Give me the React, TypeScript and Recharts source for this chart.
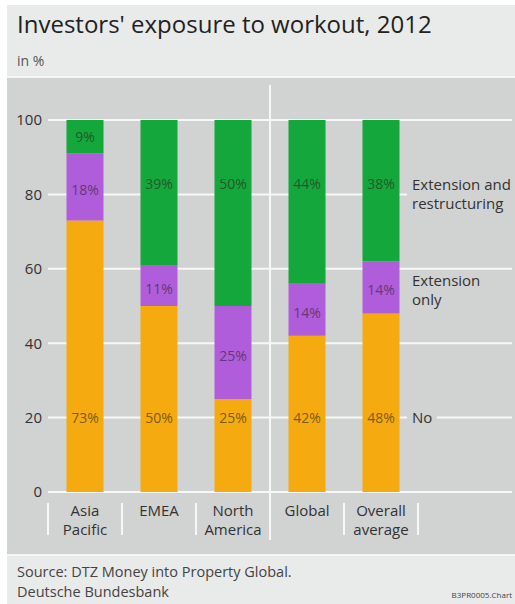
import React from "react";
import { BarChart, Bar, XAxis, YAxis, CartesianGrid, LabelList } from "recharts";

const CATEGORIES = ["Asia Pacific", "EMEA", "North America", "Global", "Overall average"];
const TICK_LINES = [["Asia", "Pacific"], ["EMEA"], ["North", "America"], ["Global"], ["Overall", "average"]];
const NO = [73, 50, 25, 42, 48];
const EXTENSION_ONLY = [18, 11, 25, 14, 14];
const EXTENSION_AND_RESTRUCTURING = [9, 39, 50, 44, 38];
const Y_TICKS = [0, 20, 40, 60, 80, 100];

const FONT = "'Open Sans', 'DejaVu Sans', sans-serif";
const PANEL = "#d1d2d2";
const ORANGE = "#f5aa10";
const PURPLE = "#b05ddb";
const GREEN = "#14a83c";

const data = CATEGORIES.map((name, i) => ({
  name,
  no: NO[i],
  extOnly: EXTENSION_ONLY[i],
  extRestr: EXTENSION_AND_RESTRUCTURING[i],
}));

// "No" labels sit on the 20 % line, next to the legend text
const NoLabel = (props: any) => {
  const { x, y, width, height, value } = props;
  const ppu = height / value;
  const ly = y + height - 20 * ppu;
  return (
    <text x={x + width / 2} y={ly + 5} textAnchor="middle" fontSize={14} fontFamily={FONT} fill="#7d5c14">
      {value}%
    </text>
  );
};

const MidLabel = (props: any) => {
  const { x, y, width, height, value } = props;
  return (
    <text x={x + width / 2} y={y + height / 2 + 8} textAnchor="middle" fontSize={14} fontFamily={FONT} fill="#633978">
      {value}%
    </text>
  );
};

// top segment labels align with "Extension and" unless the segment is too short
const TopLabel = (props: any) => {
  const { x, y, width, height, value } = props;
  const ppu = height / value;
  const ly = value > 22 ? y + 17.2 * ppu : y + height / 2;
  return (
    <text x={x + width / 2} y={ly + 5} textAnchor="middle" fontSize={14} fontFamily={FONT} fill="#215a2a">
      {value}%
    </text>
  );
};

const CategoryTick = (props: any) => {
  const { x, y, index } = props;
  const lines = TICK_LINES[index] || [];
  const half = 37;
  return (
    <g>
      {index === 3 ? (
        <line x1={x - half} x2={x - half} y1={7} y2={y + 48} stroke="#f7f7f7" strokeWidth={2} />
      ) : (
        <line x1={x - half} x2={x - half} y1={y + 11} y2={y + 43} stroke="#f7f7f7" strokeWidth={2} />
      )}
      {index === CATEGORIES.length - 1 && (
        <line x1={x + half} x2={x + half} y1={y + 11} y2={y + 43} stroke="#f7f7f7" strokeWidth={2} />
      )}
      {lines.map((t: string, k: number) => (
        <text key={k} x={x} y={y + 24 + k * 19} textAnchor="middle" fontSize={15} fontFamily={FONT} fill="#333">
          {t}
        </text>
      ))}
    </g>
  );
};

const legendStyle: React.CSSProperties = {
  position: "absolute",
  left: 400,
  padding: "0 5px",
  background: PANEL,
  fontSize: 15,
  lineHeight: "19px",
  color: "#333",
  fontFamily: FONT,
  whiteSpace: "nowrap",
};

export default function App() {
  return (
    <div
      style={{
        position: "absolute",
        left: 7,
        top: 5,
        width: 508,
        height: 599,
        background: "#e9eaea",
        fontFamily: FONT,
        overflow: "hidden",
      }}
    >
      <div style={{ position: "absolute", left: 10, top: 4, fontSize: 24, lineHeight: "30px", color: "#222", whiteSpace: "nowrap" }}>
        Investors' exposure to workout, 2012
      </div>
      <div style={{ position: "absolute", left: 10, top: 47, fontSize: 14, lineHeight: "18px", color: "#555" }}>
        in %
      </div>
      <div style={{ position: "absolute", left: 0, top: 71, width: 508, height: 2, background: "#f6f6f6" }} />

      <div style={{ position: "absolute", left: 0, top: 73, width: 508, height: 476, background: PANEL }}>
        <BarChart
          width={508}
          height={476}
          data={data}
          margin={{ top: 42, right: 3, bottom: 12, left: 0 }}
          barCategoryGap="25%"
        >
          <CartesianGrid vertical={false} stroke="#f7f7f7" strokeWidth={2} />
          <XAxis
            dataKey="name"
            axisLine={false}
            tickLine={false}
            tickSize={0}
            tickMargin={0}
            height={50}
            padding={{ left: 0, right: 94 }}
            interval={0}
            tick={<CategoryTick />}
          />
          <YAxis
            domain={[0, 100]}
            ticks={Y_TICKS}
            width={41}
            axisLine={false}
            tickLine={false}
            tickSize={0}
            tickMargin={6}
            tick={{ fontSize: 15, fontFamily: FONT, fill: "#333" }}
          />
          <Bar dataKey="no" stackId="a" fill={ORANGE} isAnimationActive={false}>
            <LabelList dataKey="no" content={<NoLabel />} />
          </Bar>
          <Bar dataKey="extOnly" stackId="a" fill={PURPLE} isAnimationActive={false}>
            <LabelList dataKey="extOnly" content={<MidLabel />} />
          </Bar>
          <Bar dataKey="extRestr" stackId="a" fill={GREEN} isAnimationActive={false}>
            <LabelList dataKey="extRestr" content={<TopLabel />} />
          </Bar>
        </BarChart>

        <div style={{ ...legendStyle, top: 97 }}>
          Extension and
          <br />
          restructuring
        </div>
        <div style={{ ...legendStyle, top: 193 }}>
          Extension
          <br />
          only
        </div>
        <div style={{ ...legendStyle, top: 330 }}>No</div>
      </div>

      <div style={{ position: "absolute", left: 0, top: 549, width: 508, height: 2, background: "#f6f6f6" }} />
      <div style={{ position: "absolute", left: 10, top: 557, fontSize: 14.5, lineHeight: "20px", color: "#444" }}>
        Source: DTZ Money into Property Global.
        <br />
        Deutsche Bundesbank
      </div>
      <div style={{ position: "absolute", right: 3, top: 584, fontSize: 8, lineHeight: "12px", color: "#444" }}>
        B3PR0005.Chart
      </div>
    </div>
  );
}
